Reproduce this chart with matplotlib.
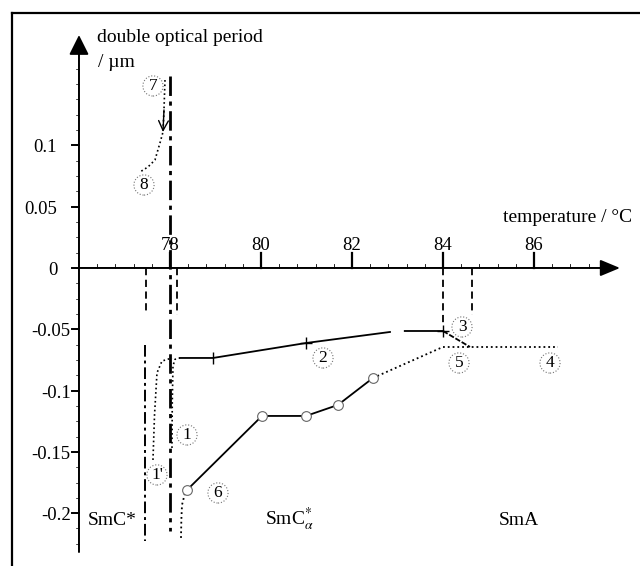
import numpy as np
import matplotlib
matplotlib.use('Agg')
import matplotlib.pyplot as plt
from matplotlib.lines import Line2D

plt.rcParams['font.family'] = ['Liberation Serif', 'DejaVu Serif']
plt.rcParams['mathtext.fontset'] = 'stix'

# axis ticks
x_ticks = [78, 80, 82, 84, 86]
x_tick_labels = ['78', '80', '82', '84', '86']
y_ticks = [0.1, 0.05, 0, -0.05, -0.1, -0.15, -0.2]
y_tick_labels = ['0.1', '0.05', '0', '-0.05', '-0.1', '-0.15', '-0.2']

# curves (temperature / degC, double optical period / um)
curve1_T = [78.044, 78.05, 78.066, 78.11, 78.22]
curve1_v = [-0.1468, -0.11, -0.0799, -0.0745, -0.0734]
curve1p_T = [77.626, 77.66, 77.714, 77.824, 78.044]
curve1p_v = [-0.1566, -0.12, -0.0856, -0.0759, -0.0734]
curve2_T = [78.22, 78.945, 80.99, 82.835, np.nan, 83.16, 84.0]
curve2_v = [-0.0734, -0.0734, -0.0612, -0.0522, np.nan, -0.0514, -0.0514]
curve3_T = [84.0, 84.593]
curve3_v = [-0.0514, -0.0644]
curve4_T = [84.0, 86.527]
curve4_v = [-0.0644, -0.0644]
curve5_T = [82.462, 84.0]
curve5_v = [-0.0897, -0.0644]
curve6_T = [78.374, 80.022, 80.989, 81.692, 82.462]
curve6_v = [-0.1811, -0.1207, -0.1207, -0.1117, -0.0897]
curve6_tail_T = [78.242, 78.25, 78.264, 78.33, 78.374]
curve6_tail_v = [-0.2202, -0.205, -0.1933, -0.1835, -0.1811]
curve78_T = [77.89, 77.868, 77.846, 77.78, 77.67, 77.516, 77.34]
curve78_v = [0.1533, 0.1289, 0.1109, 0.102, 0.0881, 0.0824, 0.0783]

# phase boundaries
bound_main_T = 78.0
bound_main_v = [0.1566, -0.2145]
bound_dashed_T = [77.47, 78.15, 84.0, 84.64]
bound_dashed_end = [-0.035, -0.0383, -0.0449, -0.0383]
bound_left_T = 77.45
bound_left_v = [-0.0628, -0.2226]

fig = plt.figure(figsize=(6.4, 5.66), dpi=100)
ax = fig.add_axes([0, 0, 1, 1])
ax.set_xlim(74.264, 88.330)
ax.set_ylim(-0.2431, 0.2186)
ax.axis('off')

# frame (left and top only)
fig.add_artist(Line2D([12/640, 12/640], [0, 1 - 13/566], transform=fig.transFigure, color='black', lw=1.6))
fig.add_artist(Line2D([12/640, 1], [1 - 13/566, 1 - 13/566], transform=fig.transFigure, color='black', lw=1.6))

# axes with arrows
x0 = 76.0
ax.annotate('', xy=(x0, 0.190), xytext=(x0, -0.2317),
            arrowprops=dict(arrowstyle='-|>,head_length=0.6,head_width=0.3', mutation_scale=20,
                            color='black', lw=1.4, shrinkA=0, shrinkB=0))
ax.annotate('', xy=(87.89, 0), xytext=(x0, 0),
            arrowprops=dict(arrowstyle='-|>,head_length=0.6,head_width=0.25', mutation_scale=20,
                            color='black', lw=1.4, shrinkA=0, shrinkB=0))

# x ticks
for t, lab in zip(x_ticks, x_tick_labels):
    ax.plot([t, t], [0, 0.0122], color='black', lw=1.6)
    ax.text(t, 0.0145, lab, ha='center', va='baseline', fontsize=13.5)
for t in np.arange(76.4, 87.7, 0.4):
    ax.plot([t, t], [0, 0.003], color='black', lw=0.6)

# y ticks
for t, lab in zip(y_ticks, y_tick_labels):
    ax.plot([75.85, x0], [t, t], color='black', lw=1.4)
    xr = 75.82 if t < 0 else 75.52
    ax.text(xr, t - 0.002, lab, ha='right', va='center', fontsize=13.5)
for t in np.arange(-0.225, 0.18, 0.0125):
    ax.plot([75.93, x0], [t, t], color='black', lw=0.5)

# phase boundaries
ax.plot([bound_main_T, bound_main_T], bound_main_v, color='black', lw=2.0,
        linestyle=(0, (7, 2, 1.5, 2)))
for t, e in zip(bound_dashed_T, bound_dashed_end):
    ax.plot([t, t], [0, e], color='black', lw=1.3, linestyle=(0, (4, 2.5)))
ax.plot([bound_left_T, bound_left_T], bound_left_v, color='black', lw=1.4,
        linestyle=(0, (6, 2, 1.5, 2)))

# curves
ax.plot(curve1_T, curve1_v, color='black', lw=1.2, linestyle=':')
ax.plot(curve1p_T, curve1p_v, color='black', lw=1.2, linestyle=':')
ax.plot(curve2_T, curve2_v, color='black', lw=1.3)
ax.plot(curve2_T[1], curve2_v[1], marker='|', color='black', ms=9, mew=1)
ax.plot([curve2_T[2], curve2_T[6]], [curve2_v[2], curve2_v[6]], linestyle='none',
        marker='+', color='black', ms=9, mew=1)
ax.plot(curve3_T, curve3_v, color='black', lw=1.3, linestyle=(0, (3, 1)))
ax.plot(curve4_T, curve4_v, color='black', lw=1.3, linestyle=':')
ax.plot(curve5_T, curve5_v, color='black', lw=1.3, linestyle=':')
ax.plot(curve6_tail_T, curve6_tail_v, color='black', lw=1.3, linestyle=':')
ax.plot(curve6_T, curve6_v, color='black', lw=1.3, marker='o', ms=7,
        mfc='white', mec='0.4', mew=0.8)
ax.plot(curve78_T, curve78_v, color='black', lw=1.2, linestyle=':')
ax.annotate('', xy=(curve78_T[2], curve78_v[2]), xytext=(curve78_T[1], curve78_v[1]),
            arrowprops=dict(arrowstyle='->,head_length=0.5,head_width=0.25', mutation_scale=14,
                            color='black', lw=1.0, shrinkA=0, shrinkB=0))

# circled numbers
circ = dict(boxstyle='circle,pad=0.12', fc='white', ec='0.45', lw=0.8, ls=':')
labels = [('7', 77.626, 0.1485), ('8', 77.429, 0.0677), ('1', 78.374, -0.1362),
          ("1'", 77.714, -0.1688), ('6', 79.055, -0.1835), ('2', 81.363, -0.0734),
          ('3', 84.418, -0.0481), ('5', 84.352, -0.0775), ('4', 86.352, -0.0775)]
for s, tx, ty in labels:
    ax.text(tx, ty, s, ha='center', va='center', fontsize=12.5, bbox=circ)

# axis titles
ax.text(76.40, 0.1843, 'double optical period', ha='left', va='baseline', fontsize=14)
ax.text(76.42, 0.164, '/ \u00b5m', ha='left', va='baseline', fontsize=14)
ax.text(85.32, 0.0375, 'temperature / \u00b0C', ha='left', va='baseline', fontsize=14)

# phase names
ax.text(76.2, -0.2096, 'SmC*', ha='left', va='baseline', fontsize=14)
ax.text(80.09, -0.2096, r'SmC$^{*}_{\alpha}$', ha='left', va='baseline', fontsize=14)
ax.text(85.23, -0.2096, 'SmA', ha='left', va='baseline', fontsize=14)

fig.savefig('out.png', dpi=100)
